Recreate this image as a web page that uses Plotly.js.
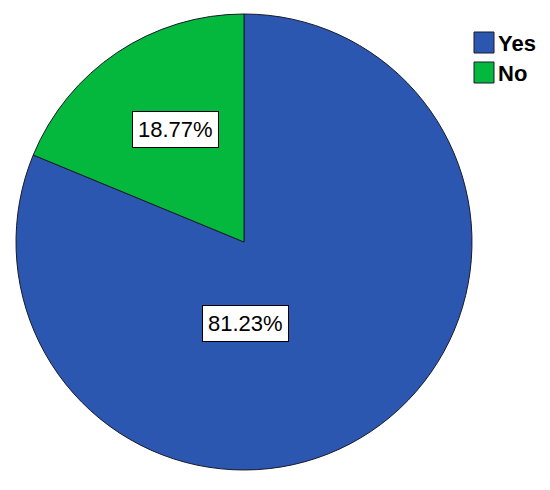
<!DOCTYPE html>
<html>
<head>
<meta charset="utf-8">
<script src="https://cdn.plot.ly/plotly-3.0.1.min.js"></script>
<style>body{margin:0;background:#fff;} #myDiv{width:550px;height:490px;}</style>
</head>
<body>
<div id="myDiv"></div>
<script>
var categories = ['Yes', 'No'];
var percents = [81.23, 18.77];
var colors = ['#2b57b1', '#04b83e'];

var W = 550, H = 490;
function px(x) { return x / W; }
function py(y) { return (H - y) / H; }

// pie centre (244,242), radius 228
var trace = {
    type: 'pie',
    labels: categories,
    values: percents,
    sort: false,
    direction: 'clockwise',
    rotation: 0,
    textinfo: 'none',
    hoverinfo: 'label+percent',
    showlegend: false,
    marker: { colors: colors, line: { color: '#1a1a2a', width: 1 } },
    domain: { x: [px(16), px(472)], y: [py(470), py(14)] }
};

// label boxes, where the original program put them
var labelPos = [[245, 324], [175, 129]];
var annotations = [];
for (var i = 0; i < categories.length; i++) {
    annotations.push({
        text: percents[i].toFixed(2) + '%',
        x: px(labelPos[i][0]), y: py(labelPos[i][1]),
        xanchor: 'center', yanchor: 'middle',
        xref: 'paper', yref: 'paper', showarrow: false,
        font: { family: 'Liberation Sans, Arial', size: 22, color: '#000' },
        bgcolor: '#fff', bordercolor: '#000', borderwidth: 1, borderpad: 5
    });
}

// legend drawn by hand to get the big squares
var shapes = [];
for (var j = 0; j < categories.length; j++) {
    var yTop = 32 + j * 30;
    shapes.push({
        type: 'rect', xref: 'paper', yref: 'paper',
        x0: px(474), x1: px(494), y0: py(yTop + 21), y1: py(yTop),
        fillcolor: colors[j], line: { color: '#1a1a2a', width: 1 }
    });
    annotations.push({
        text: '<b>' + categories[j] + '</b>',
        x: px(496), y: py(yTop + 11), xanchor: 'left', yanchor: 'middle',
        xref: 'paper', yref: 'paper', showarrow: false,
        font: { family: 'Liberation Sans, Arial', size: 22, color: '#000' }
    });
}

var layout = {
    width: W, height: H,
    margin: { l: 0, r: 0, t: 0, b: 0 },
    paper_bgcolor: '#fff',
    showlegend: false,
    annotations: annotations,
    shapes: shapes
};

Plotly.newPlot('myDiv', [trace], layout, { displayModeBar: false, staticPlot: true });
</script>
</body>
</html>
